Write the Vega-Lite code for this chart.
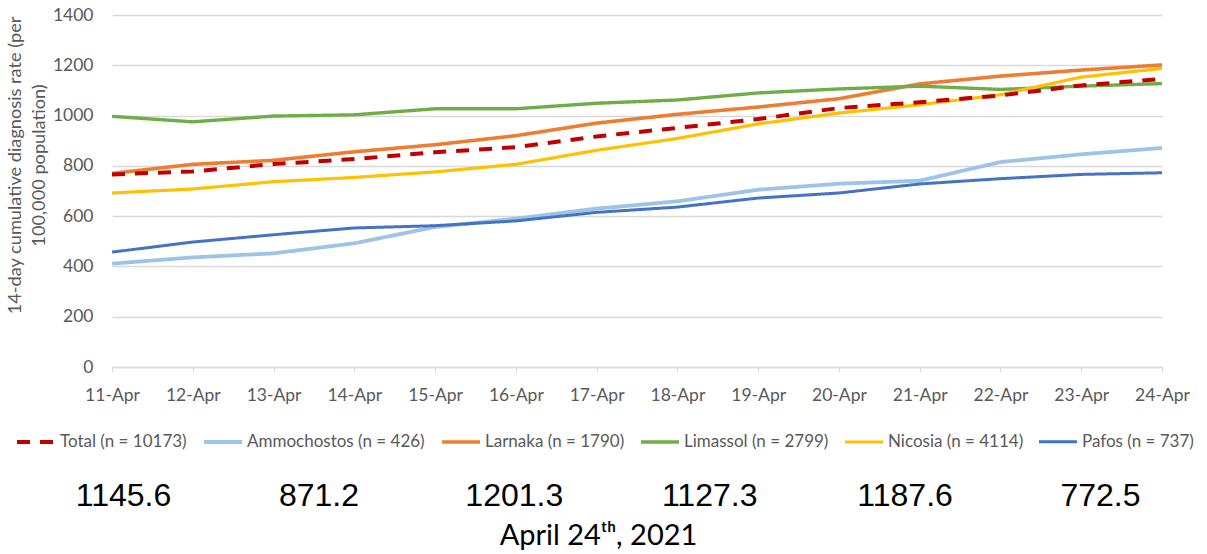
{
  "$schema": "https://vega.github.io/schema/vega-lite/v6.json",
  "padding": {"left": 5, "top": 6, "right": 5, "bottom": 0},
  "config": {"view": {"stroke": null}, "font": "Lato", "concat": {"spacing": 76}},
  "data": {"values": [
    {"series": "Ammochostos (n = 426)", "date": "11-Apr", "value": 411},
    {"series": "Ammochostos (n = 426)", "date": "12-Apr", "value": 436},
    {"series": "Ammochostos (n = 426)", "date": "13-Apr", "value": 452},
    {"series": "Ammochostos (n = 426)", "date": "14-Apr", "value": 492},
    {"series": "Ammochostos (n = 426)", "date": "15-Apr", "value": 557},
    {"series": "Ammochostos (n = 426)", "date": "16-Apr", "value": 590},
    {"series": "Ammochostos (n = 426)", "date": "17-Apr", "value": 630},
    {"series": "Ammochostos (n = 426)", "date": "18-Apr", "value": 659},
    {"series": "Ammochostos (n = 426)", "date": "19-Apr", "value": 705},
    {"series": "Ammochostos (n = 426)", "date": "20-Apr", "value": 729},
    {"series": "Ammochostos (n = 426)", "date": "21-Apr", "value": 741},
    {"series": "Ammochostos (n = 426)", "date": "22-Apr", "value": 815},
    {"series": "Ammochostos (n = 426)", "date": "23-Apr", "value": 846},
    {"series": "Ammochostos (n = 426)", "date": "24-Apr", "value": 871.2},
    {"series": "Larnaka (n = 1790)", "date": "11-Apr", "value": 770},
    {"series": "Larnaka (n = 1790)", "date": "12-Apr", "value": 806},
    {"series": "Larnaka (n = 1790)", "date": "13-Apr", "value": 822},
    {"series": "Larnaka (n = 1790)", "date": "14-Apr", "value": 856},
    {"series": "Larnaka (n = 1790)", "date": "15-Apr", "value": 884},
    {"series": "Larnaka (n = 1790)", "date": "16-Apr", "value": 920},
    {"series": "Larnaka (n = 1790)", "date": "17-Apr", "value": 970},
    {"series": "Larnaka (n = 1790)", "date": "18-Apr", "value": 1005},
    {"series": "Larnaka (n = 1790)", "date": "19-Apr", "value": 1034},
    {"series": "Larnaka (n = 1790)", "date": "20-Apr", "value": 1067},
    {"series": "Larnaka (n = 1790)", "date": "21-Apr", "value": 1126},
    {"series": "Larnaka (n = 1790)", "date": "22-Apr", "value": 1157},
    {"series": "Larnaka (n = 1790)", "date": "23-Apr", "value": 1181},
    {"series": "Larnaka (n = 1790)", "date": "24-Apr", "value": 1201.3},
    {"series": "Limassol (n = 2799)", "date": "11-Apr", "value": 997},
    {"series": "Limassol (n = 2799)", "date": "12-Apr", "value": 975},
    {"series": "Limassol (n = 2799)", "date": "13-Apr", "value": 998},
    {"series": "Limassol (n = 2799)", "date": "14-Apr", "value": 1003},
    {"series": "Limassol (n = 2799)", "date": "15-Apr", "value": 1027},
    {"series": "Limassol (n = 2799)", "date": "16-Apr", "value": 1027},
    {"series": "Limassol (n = 2799)", "date": "17-Apr", "value": 1049},
    {"series": "Limassol (n = 2799)", "date": "18-Apr", "value": 1062},
    {"series": "Limassol (n = 2799)", "date": "19-Apr", "value": 1090},
    {"series": "Limassol (n = 2799)", "date": "20-Apr", "value": 1106},
    {"series": "Limassol (n = 2799)", "date": "21-Apr", "value": 1117},
    {"series": "Limassol (n = 2799)", "date": "22-Apr", "value": 1104},
    {"series": "Limassol (n = 2799)", "date": "23-Apr", "value": 1117},
    {"series": "Limassol (n = 2799)", "date": "24-Apr", "value": 1127.3},
    {"series": "Nicosia (n = 4114)", "date": "11-Apr", "value": 692},
    {"series": "Nicosia (n = 4114)", "date": "12-Apr", "value": 708},
    {"series": "Nicosia (n = 4114)", "date": "13-Apr", "value": 737},
    {"series": "Nicosia (n = 4114)", "date": "14-Apr", "value": 754},
    {"series": "Nicosia (n = 4114)", "date": "15-Apr", "value": 776},
    {"series": "Nicosia (n = 4114)", "date": "16-Apr", "value": 806},
    {"series": "Nicosia (n = 4114)", "date": "17-Apr", "value": 862},
    {"series": "Nicosia (n = 4114)", "date": "18-Apr", "value": 909},
    {"series": "Nicosia (n = 4114)", "date": "19-Apr", "value": 967},
    {"series": "Nicosia (n = 4114)", "date": "20-Apr", "value": 1010},
    {"series": "Nicosia (n = 4114)", "date": "21-Apr", "value": 1043},
    {"series": "Nicosia (n = 4114)", "date": "22-Apr", "value": 1083},
    {"series": "Nicosia (n = 4114)", "date": "23-Apr", "value": 1153},
    {"series": "Nicosia (n = 4114)", "date": "24-Apr", "value": 1187.6},
    {"series": "Pafos (n = 737)", "date": "11-Apr", "value": 457},
    {"series": "Pafos (n = 737)", "date": "12-Apr", "value": 497},
    {"series": "Pafos (n = 737)", "date": "13-Apr", "value": 526},
    {"series": "Pafos (n = 737)", "date": "14-Apr", "value": 553},
    {"series": "Pafos (n = 737)", "date": "15-Apr", "value": 562},
    {"series": "Pafos (n = 737)", "date": "16-Apr", "value": 581},
    {"series": "Pafos (n = 737)", "date": "17-Apr", "value": 615},
    {"series": "Pafos (n = 737)", "date": "18-Apr", "value": 636},
    {"series": "Pafos (n = 737)", "date": "19-Apr", "value": 672},
    {"series": "Pafos (n = 737)", "date": "20-Apr", "value": 692},
    {"series": "Pafos (n = 737)", "date": "21-Apr", "value": 728},
    {"series": "Pafos (n = 737)", "date": "22-Apr", "value": 749},
    {"series": "Pafos (n = 737)", "date": "23-Apr", "value": 766},
    {"series": "Pafos (n = 737)", "date": "24-Apr", "value": 772.5},
    {"series": "Total (n = 10173)", "date": "11-Apr", "value": 766},
    {"series": "Total (n = 10173)", "date": "12-Apr", "value": 778},
    {"series": "Total (n = 10173)", "date": "13-Apr", "value": 807},
    {"series": "Total (n = 10173)", "date": "14-Apr", "value": 827},
    {"series": "Total (n = 10173)", "date": "15-Apr", "value": 854},
    {"series": "Total (n = 10173)", "date": "16-Apr", "value": 874},
    {"series": "Total (n = 10173)", "date": "17-Apr", "value": 917},
    {"series": "Total (n = 10173)", "date": "18-Apr", "value": 951},
    {"series": "Total (n = 10173)", "date": "19-Apr", "value": 986},
    {"series": "Total (n = 10173)", "date": "20-Apr", "value": 1030},
    {"series": "Total (n = 10173)", "date": "21-Apr", "value": 1053},
    {"series": "Total (n = 10173)", "date": "22-Apr", "value": 1080},
    {"series": "Total (n = 10173)", "date": "23-Apr", "value": 1120},
    {"series": "Total (n = 10173)", "date": "24-Apr", "value": 1145.6}
  ]},
  "vconcat": [
    {
      "width": 1050,
      "height": 352,
      "mark": {"type": "line"},
      "encoding": {
        "x": {
          "field": "date", "type": "ordinal", "sort": null,
          "scale": {"type": "point", "padding": 0},
          "axis": {"title": null, "labelAngle": 0, "labelFont": "Lato", "labelFontSize": 17.5, "labelColor": "#595959",
                   "labelPadding": 14, "tickSize": 5, "tickColor": "#D9D9D9", "domainColor": "#D9D9D9", "domainWidth": 1.3, "grid": false}
        },
        "y": {
          "field": "value", "type": "quantitative",
          "scale": {"domain": [0, 1400]},
          "axis": {"title": ["14-day cumulative diagnosis rate (per", "100,000 population)"],
                   "titleFont": "Lato", "titleFontSize": 18.2, "titleFontWeight": "normal", "titleColor": "#595959",
                   "titleLineHeight": 24, "titleY": 150, "titlePadding": 4, "format": "d",
                   "values": [0, 200, 400, 600, 800, 1000, 1200, 1400],
                   "domain": false, "ticks": false, "labelPadding": 19, "labelFont": "Lato", "labelFontSize": 17.5, "labelColor": "#595959",
                   "gridColor": "#D9D9D9", "gridWidth": 1.3}
        },
        "color": {
          "field": "series", "type": "nominal",
          "scale": {"domain": ["Total (n = 10173)", "Ammochostos (n = 426)", "Larnaka (n = 1790)", "Limassol (n = 2799)", "Nicosia (n = 4114)", "Pafos (n = 737)"],
                    "range": ["#C00000", "#9DC3E6", "#ED7D31", "#70AD47", "#FFC000", "#4472C4"]},
          "legend": {"orient": "none", "legendX": -97, "legendY": 406, "direction": "horizontal", "columns": 6, "title": null,
                     "symbolType": "stroke", "symbolSize": 1444, "symbolStrokeWidth": 3.5,
                     "labelFont": "Lato", "labelFontSize": 17, "labelColor": "#595959", "labelLimit": 400,
                     "columnPadding": 9, "labelOffset": 3}
        },
        "strokeDash": {
          "field": "series", "type": "nominal",
          "scale": {"domain": ["Total (n = 10173)", "Ammochostos (n = 426)", "Larnaka (n = 1790)", "Limassol (n = 2799)", "Nicosia (n = 4114)", "Pafos (n = 737)"],
                    "range": [[13, 10], [1, 0], [1, 0], [1, 0], [1, 0], [1, 0]]},
          "legend": {"orient": "none", "legendX": -97, "legendY": 406, "direction": "horizontal", "columns": 6, "title": null,
                     "symbolType": "stroke", "symbolSize": 1444, "symbolStrokeWidth": 3.5,
                     "labelFont": "Lato", "labelFontSize": 17, "labelColor": "#595959", "labelLimit": 400,
                     "columnPadding": 9, "labelOffset": 3}
        },
        "strokeWidth": {
          "field": "series", "type": "nominal",
          "scale": {"domain": ["Total (n = 10173)", "Ammochostos (n = 426)", "Larnaka (n = 1790)", "Limassol (n = 2799)", "Nicosia (n = 4114)", "Pafos (n = 737)"],
                    "range": [4, 3, 3, 3, 3, 3]},
          "legend": null
        }
      }
    },
    {
      "width": 1000,
      "height": 30,
      "transform": [{"filter": "datum.date === '24-Apr'"}],
      "mark": {"type": "text", "font": "Liberation Sans", "fontSize": 32, "color": "#000000", "baseline": "middle"},
      "encoding": {
        "x": {
          "field": "series", "type": "nominal",
          "sort": ["Total (n = 10173)", "Ammochostos (n = 426)", "Larnaka (n = 1790)", "Limassol (n = 2799)", "Nicosia (n = 4114)", "Pafos (n = 737)"],
          "scale": {"type": "point", "padding": 0.059},
          "axis": {"labels": false, "ticks": false, "domain": false, "grid": false,
                   "title": "April 24ᵗʰ, 2021", "titleFont": "Lato", "titleFontSize": 29, "titleColor": "#000000",
                   "titleFontWeight": "normal", "titlePadding": 10, "titleX": 486}
        },
        "text": {"field": "value", "type": "quantitative", "format": ".1f"}
      }
    }
  ],
  "resolve": {"scale": {"x": "independent"}}
}
